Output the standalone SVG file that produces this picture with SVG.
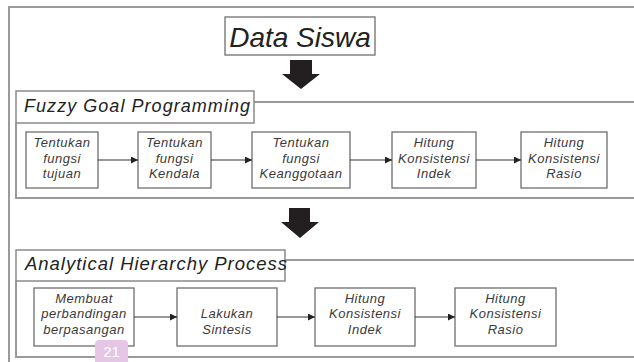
<svg xmlns="http://www.w3.org/2000/svg" width="634" height="362" viewBox="0 0 634 362">
<defs>
<style>
.frame{fill:none;stroke:#9a9a9a;stroke-width:2}
.box{fill:#fff;stroke:#6e6e6e;stroke-width:1.3}
.t{font-family:"Liberation Sans",Arial,sans-serif;font-style:italic;fill:#3a3a3a;text-anchor:middle;font-size:13px;letter-spacing:0.5px}
.big{font-family:"Liberation Sans",Arial,sans-serif;font-style:italic;fill:#222}
.conn{stroke:#333;stroke-width:1.2;fill:none;marker-end:url(#ah)}
.fat{fill:#231f20}
</style>
<marker id="ah" viewBox="0 0 10 10" refX="10" refY="5" markerWidth="7" markerHeight="7" markerUnits="userSpaceOnUse" orient="auto">
<path d="M0,0 L10,5 L0,10 z" fill="#222"/>
</marker>
</defs>
<rect width="634" height="362" fill="#fff"/>
<!-- outer frame -->
<path class="frame" d="M9,362 V7 H634"/>
<!-- Fuzzy section frame -->
<path class="frame" d="M254,102 H634 M16,123 V198 H634"/>
<!-- AHP section frame -->
<path class="frame" d="M285,260 H634 M16,281 V357 H634"/>

<g id="data-siswa">
<rect class="box" x="225" y="17" width="150" height="38"/>
<text class="big" x="300" y="47" font-size="28" text-anchor="middle">Data Siswa</text>
</g>

<g id="fgp-title">
<rect x="16" y="91" width="238" height="32" fill="#fff" stroke="#8a8a8a" stroke-width="1.5"/>
<text class="big" x="24" y="112" font-size="18" textLength="226" lengthAdjust="spacing">Fuzzy Goal Programming</text>
</g>

<g id="ahp-title">
<rect x="16" y="250" width="269" height="31" fill="#fff" stroke="#8a8a8a" stroke-width="1.5"/>
<text class="big" x="25" y="270" font-size="18.5" textLength="262" lengthAdjust="spacing">Analytical Hierarchy Process</text>
</g>

<g id="big-arrows">
<path class="fat" d="M290,60 H312 V74 H320 L301,89 L282,74 H290 Z"/>
<path class="fat" d="M289,208 H310 V222 H319 L300,238 L281,222 H289 Z"/>
</g>

<g id="f1"><rect class="box" x="26" y="132" width="72" height="56"/>
<text class="t" x="62" y="146.5">Tentukan</text><text class="t" x="62" y="162.5">fungsi</text><text class="t" x="62" y="177.5">tujuan</text></g>
<g id="f2"><rect class="box" x="138" y="132" width="73" height="56"/>
<text class="t" x="174.5" y="146.5">Tentukan</text><text class="t" x="174.5" y="162.5">fungsi</text><text class="t" x="174.5" y="177.5">Kendala</text></g>
<g id="f3"><rect class="box" x="252" y="132" width="98" height="56"/>
<text class="t" x="301" y="146.5">Tentukan</text><text class="t" x="301" y="162.5">fungsi</text><text class="t" x="301" y="177.5">Keanggotaan</text></g>
<g id="f4"><rect class="box" x="392" y="132" width="84" height="56"/>
<text class="t" x="434" y="146.5">Hitung</text><text class="t" x="434" y="162.5">Konsistensi</text><text class="t" x="434" y="177.5">Indek</text></g>
<g id="f5"><rect class="box" x="521" y="132" width="86" height="56"/>
<text class="t" x="564" y="146.5">Hitung</text><text class="t" x="564" y="162.5">Konsistensi</text><text class="t" x="564" y="177.5">Rasio</text></g>

<g id="a1"><rect class="box" x="34" y="288" width="100" height="58"/>
<text class="t" x="84" y="302.5">Membuat</text><text class="t" x="84" y="317.5">perbandingan</text><text class="t" x="84" y="333.5">berpasangan</text></g>
<g id="a2"><rect class="box" x="177" y="288" width="100" height="58"/>
<text class="t" x="227" y="317.5">Lakukan</text><text class="t" x="227" y="333.5">Sintesis</text></g>
<g id="a3"><rect class="box" x="315" y="288" width="100" height="58"/>
<text class="t" x="365" y="302.5">Hitung</text><text class="t" x="365" y="317.5">Konsistensi</text><text class="t" x="365" y="333.5">Indek</text></g>
<g id="a4"><rect class="box" x="455" y="288" width="101" height="58"/>
<text class="t" x="505.5" y="302.5">Hitung</text><text class="t" x="505.5" y="317.5">Konsistensi</text><text class="t" x="505.5" y="333.5">Rasio</text></g>

<g id="connectors">
<path class="conn" d="M98,160 H138"/>
<path class="conn" d="M211,160 H252"/>
<path class="conn" d="M350,160 H392"/>
<path class="conn" d="M476,160 H521"/>
<path class="conn" d="M134,317 H177"/>
<path class="conn" d="M277,317 H315"/>
<path class="conn" d="M415,317 H455"/>
</g>

<g id="badge">
<rect x="95" y="340" width="33" height="28" rx="4" fill="#e6c6e6"/>
<text x="111.5" y="357" font-family="'Liberation Sans',Arial,sans-serif" font-size="15" fill="#fff" text-anchor="middle">21</text>
</g>
</svg>
